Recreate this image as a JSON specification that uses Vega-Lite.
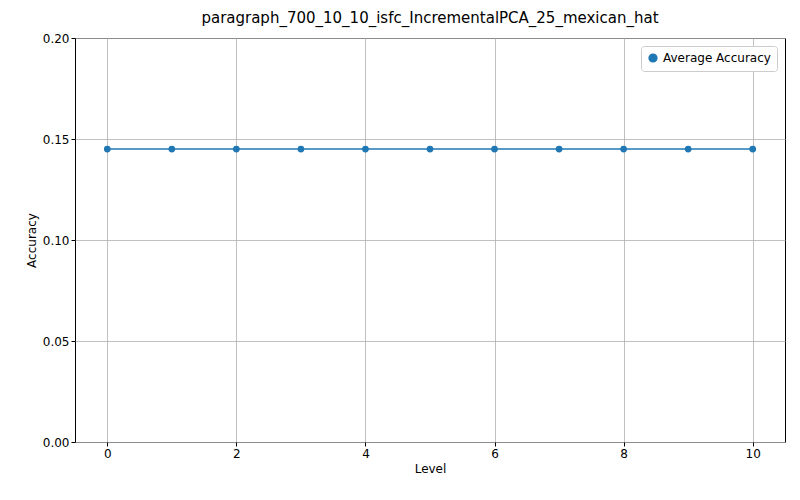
{
  "$schema": "https://vega.github.io/schema/vega-lite/v6.json",
  "width": 710,
  "height": 404,
  "autosize": "none",
  "padding": {"left": 75, "top": 38, "right": 15, "bottom": 58},
  "background": "white",
  "title": {"text": "paragraph_700_10_10_isfc_IncrementalPCA_25_mexican_hat", "font": "DejaVu Sans", "fontSize": 15, "fontWeight": "normal", "color": "black", "offset": 6},
  "config": {
    "view": {"stroke": "black", "strokeWidth": 1},
    "axis": {"labelFont": "DejaVu Sans", "titleFont": "DejaVu Sans", "labelFontSize": 12, "titleFontSize": 12, "titleFontWeight": "normal", "labelColor": "black", "titleColor": "black", "gridColor": "#b0b0b0", "gridOpacity": 1, "gridWidth": 0.8, "tickColor": "black", "tickSize": 4, "domain": false}
  },
  "data": {"values": [
    {"level": 0, "acc": 0.145, "series": "Average Accuracy"},
    {"level": 1, "acc": 0.145, "series": "Average Accuracy"},
    {"level": 2, "acc": 0.145, "series": "Average Accuracy"},
    {"level": 3, "acc": 0.145, "series": "Average Accuracy"},
    {"level": 4, "acc": 0.145, "series": "Average Accuracy"},
    {"level": 5, "acc": 0.145, "series": "Average Accuracy"},
    {"level": 6, "acc": 0.145, "series": "Average Accuracy"},
    {"level": 7, "acc": 0.145, "series": "Average Accuracy"},
    {"level": 8, "acc": 0.145, "series": "Average Accuracy"},
    {"level": 9, "acc": 0.145, "series": "Average Accuracy"},
    {"level": 10, "acc": 0.145, "series": "Average Accuracy"}
  ]},
  "encoding": {
    "x": {"field": "level", "type": "quantitative", "title": "Level", "scale": {"domain": [-0.5, 10.5], "nice": false, "zero": false}, "axis": {"values": [0, 2, 4, 6, 8, 10], "format": "d"}},
    "y": {"field": "acc", "type": "quantitative", "title": "Accuracy", "scale": {"domain": [0, 0.2], "nice": false}, "axis": {"values": [0, 0.05, 0.1, 0.15, 0.2], "format": ".2f"}},
    "color": {"field": "series", "type": "nominal", "scale": {"range": ["#1f77b4"]}, "legend": {"title": null, "orient": "top-right", "labelFont": "DejaVu Sans", "labelFontSize": 12, "labelColor": "black", "symbolType": "circle", "symbolFillColor": "#1f77b4", "symbolSize": 60, "fillColor": "white", "strokeColor": "#cccccc", "padding": 6, "cornerRadius": 3, "offset": 8}}
  },
  "layer": [
    {"mark": {"type": "line", "strokeWidth": 1.5}},
    {"mark": {"type": "point", "filled": true, "size": 45, "opacity": 1}}
  ]
}
